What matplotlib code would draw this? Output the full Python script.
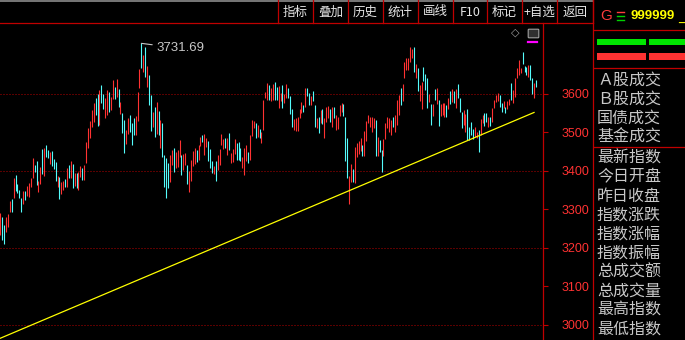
import matplotlib
matplotlib.use('Agg')
import matplotlib.pyplot as plt
from matplotlib.patches import Rectangle, FancyBboxPatch

# daily bars of index 999999 (high / low / up-day flag)
highs = [3291, 3280, 3259, 3280, 3288, 3322, 3327, 3382, 3389, 3366,
         3350, 3330, 3348, 3348, 3361, 3369, 3382, 3434, 3415, 3426,
         3374, 3410, 3457, 3460, 3467, 3454, 3449, 3452, 3431, 3423,
         3387, 3384, 3371, 3374, 3379, 3408, 3415, 3426, 3418, 3395,
         3395, 3397, 3413, 3408, 3415, 3475, 3512, 3530, 3558, 3577,
         3590, 3600, 3610, 3623, 3600, 3590, 3610, 3605, 3592, 3636,
         3618, 3639, 3613, 3579, 3551, 3532, 3506, 3538, 3545, 3525,
         3538, 3543, 3605, 3665, 3731.69, 3701, 3722, 3673, 3649, 3597,
         3553, 3566, 3579, 3556, 3532, 3525, 3441, 3434, 3421, 3441,
         3454, 3460, 3449, 3454, 3480, 3441, 3444, 3447, 3415, 3400,
         3428, 3452, 3460, 3454, 3467, 3488, 3493, 3496, 3486, 3478,
         3457, 3426, 3413, 3426, 3441, 3457, 3496, 3483, 3486, 3486,
         3499, 3447, 3457, 3483, 3473, 3475, 3460, 3436, 3460, 3467,
         3449, 3493, 3532, 3530, 3525, 3519, 3509, 3501, 3584, 3605,
         3629, 3623, 3616, 3626, 3631, 3618, 3621, 3603, 3623, 3600,
         3626, 3616, 3595, 3561, 3535, 3538, 3540, 3561, 3579, 3571,
         3616, 3616, 3603, 3595, 3608, 3571, 3538, 3540, 3558, 3561,
         3538, 3566, 3569, 3561, 3566, 3566, 3545, 3540, 3571, 3577,
         3574, 3540, 3486, 3387, 3418, 3405, 3462, 3473, 3478, 3486,
         3467, 3504, 3530, 3545, 3540, 3540, 3538, 3532, 3488, 3480,
         3454, 3483, 3525, 3540, 3538, 3532, 3540, 3545, 3584, 3597,
         3616, 3626, 3683, 3694, 3694, 3722, 3717, 3722, 3678, 3668,
         3623, 3631, 3670, 3652, 3642, 3600, 3574, 3574, 3613, 3616,
         3584, 3574, 3577, 3577, 3571, 3590, 3608, 3613, 3608, 3613,
         3626, 3590, 3553, 3558, 3548, 3561, 3514, 3527, 3509, 3514,
         3501, 3506, 3535, 3545, 3551, 3551, 3540, 3540, 3564, 3584,
         3597, 3603, 3597, 3577, 3582, 3566, 3582, 3587, 3629, 3610,
         3642, 3668, 3688, 3668, 3709, 3673, 3670, 3675, 3675, 3642,
         3629, 3636]
lows = [3233, 3220, 3210, 3241, 3254, 3293, 3293, 3330, 3348, 3343,
        3330, 3293, 3314, 3324, 3335, 3332, 3358, 3382, 3397, 3363,
        3345, 3366, 3392, 3387, 3436, 3434, 3418, 3413, 3405, 3374,
        3358, 3327, 3340, 3350, 3358, 3358, 3382, 3382, 3356, 3361,
        3356, 3350, 3384, 3376, 3376, 3421, 3460, 3486, 3514, 3527,
        3545, 3517, 3519, 3577, 3561, 3538, 3545, 3553, 3558, 3587,
        3587, 3592, 3566, 3548, 3499, 3447, 3470, 3496, 3501, 3467,
        3493, 3493, 3530, 3616, 3668, 3657, 3644, 3618, 3571, 3504,
        3514, 3488, 3496, 3493, 3460, 3436, 3358, 3330, 3356, 3371,
        3415, 3397, 3408, 3410, 3436, 3389, 3402, 3415, 3366, 3345,
        3374, 3413, 3418, 3423, 3428, 3465, 3475, 3441, 3462, 3426,
        3408, 3395, 3392, 3374, 3402, 3415, 3467, 3457, 3460, 3441,
        3454, 3421, 3423, 3444, 3428, 3428, 3426, 3408, 3389, 3426,
        3421, 3428, 3491, 3512, 3486, 3488, 3486, 3473, 3506, 3590,
        3584, 3584, 3582, 3584, 3584, 3584, 3564, 3582, 3564, 3577,
        3590, 3590, 3548, 3514, 3506, 3504, 3504, 3538, 3551, 3553,
        3566, 3595, 3571, 3571, 3582, 3514, 3512, 3499, 3525, 3522,
        3486, 3527, 3538, 3527, 3514, 3538, 3506, 3509, 3543, 3553,
        3543, 3426, 3382, 3314, 3371, 3371, 3369, 3436, 3444, 3452,
        3439, 3439, 3478, 3525, 3514, 3501, 3512, 3439, 3439, 3449,
        3397, 3439, 3483, 3512, 3501, 3493, 3514, 3501, 3519, 3545,
        3571, 3582, 3642, 3662, 3662, 3683, 3694, 3657, 3642, 3608,
        3582, 3561, 3634, 3610, 3564, 3579, 3519, 3543, 3584, 3574,
        3517, 3543, 3545, 3540, 3540, 3561, 3574, 3579, 3577, 3564,
        3590, 3553, 3512, 3519, 3501, 3480, 3480, 3493, 3483, 3488,
        3486, 3449, 3493, 3525, 3517, 3527, 3514, 3517, 3527, 3564,
        3579, 3582, 3566, 3553, 3564, 3551, 3561, 3571, 3584, 3577,
        3592, 3642, 3649, 3655, 3678, 3657, 3649, 3644, 3636, 3600,
        3590, 3618]
up = [1, 0, 0, 1, 1, 1, 0, 1, 0, 0,
      0, 0, 1, 0, 1, 1, 1, 1, 0, 0,
      1, 1, 0, 1, 0, 0, 1, 0, 0, 0,
      1, 0, 1, 1, 0, 1, 0, 1, 0, 1,
      0, 1, 1, 0, 1, 1, 1, 1, 1, 1,
      0, 0, 1, 0, 0, 1, 1, 0, 1, 1,
      0, 1, 0, 1, 0, 0, 1, 1, 0, 0,
      0, 1, 1, 1, 0, 1, 0, 1, 0, 0,
      1, 0, 1, 0, 1, 0, 0, 0, 0, 1,
      1, 0, 1, 1, 1, 0, 1, 1, 0, 1,
      1, 1, 1, 0, 1, 1, 0, 1, 1, 0,
      0, 0, 1, 0, 1, 1, 1, 1, 0, 1,
      0, 1, 1, 1, 0, 0, 0, 1, 1, 1,
      0, 1, 1, 1, 0, 1, 0, 1, 1, 1,
      1, 0, 1, 1, 0, 0, 1, 1, 0, 1,
      1, 0, 0, 0, 1, 1, 1, 1, 1, 0,
      1, 0, 0, 1, 0, 0, 1, 0, 1, 0,
      1, 1, 1, 0, 1, 0, 1, 1, 1, 1,
      0, 0, 0, 1, 1, 0, 1, 1, 1, 1,
      0, 1, 1, 1, 1, 1, 1, 0, 1, 0,
      0, 1, 1, 1, 1, 1, 0, 1, 1, 1,
      0, 1, 1, 1, 1, 1, 1, 0, 1, 0,
      1, 1, 0, 0, 0, 1, 0, 1, 0, 1,
      0, 1, 1, 1, 0, 1, 0, 1, 0, 1,
      0, 0, 0, 1, 1, 0, 0, 0, 0, 1,
      1, 0, 1, 1, 0, 0, 1, 0, 1, 1,
      1, 1, 0, 0, 1, 0, 1, 1, 0, 1,
      1, 1, 1, 1, 0, 0, 0, 1, 0, 0,
      1, 0]

# hand drawn support line (bar index -> price)
trend_idx = [0, 280]
trend_val = [2965, 3552]

yticks = [3000, 3100, 3200, 3300, 3400, 3500, 3600]
grid_levels = [3000, 3200, 3400, 3600]

buttons = ['指标', '叠加', '历史', '统计', '画线', 'F10', '标记', '+自选', '返回']
button_edges = [278, 313, 348, 383, 418, 453, 487, 522, 557, 593]
stats_top = ['Ａ股成交', 'Ｂ股成交', '国债成交', '基金成交']
stats_bottom = ['最新指数', '今日开盘', '昨日收盘', '指数涨跌', '指数涨幅',
                '指数振幅', '总成交额', '总成交量', '最高指数', '最低指数']

RED = '#ff3232'
CYAN = '#54fcfc'
FRAME = '#c00000'
CJK = ['Noto Sans CJK SC', 'DejaVu Sans']
W, H = 685, 340

fig = plt.figure(figsize=(W / 100, H / 100), dpi=100, facecolor='black')

# price panel
ax = fig.add_axes([0, 0, 543 / W, 317 / H])
ax.set_facecolor('black')
idx = list(range(len(highs)))
cols = [RED if u else CYAN for u in up]
ax.vlines(idx, lows, highs, colors=cols, linewidth=0.8)
ax.plot(trend_idx, trend_val, color='#ffff00', lw=0.9)
for lvl in grid_levels:
    ax.axhline(lvl, color='#b40000', lw=0.72, linestyle=(0, (1, 2)), zorder=0)

ax.set_xlim(-0.17, 284.7)
ax.set_ylim(2960.4, 3784.6)
for s in ['left', 'top', 'bottom']:
    ax.spines[s].set_visible(False)
ax.spines['right'].set_color(FRAME)
ax.spines['right'].set_linewidth(0.9)
ax.set_xticks([])
ax.yaxis.tick_right()
ax.set_yticks(yticks)
ax.tick_params(axis='y', direction='out', length=3.6, width=0.8, color=FRAME,
               labelcolor=RED, labelsize=9, pad=29.5)
for lab in ax.get_yticklabels():
    lab.set_ha('right')
    lab.set_fontfamily('Liberation Sans')

# peak marker
pk = highs.index(max(highs))
ax.annotate(f'{max(highs):.2f}', xy=(pk, max(highs)), xytext=(15, -5),
            textcoords='offset pixels', color='#c8c8c8', fontsize=9.5,
            family='Liberation Sans', va='center', ha='left',
            arrowprops=dict(arrowstyle='-', color='#c8c8c8', lw=0.8,
                            shrinkA=1, shrinkB=0))

# frame, toolbar and info panel in pixel coordinates
ov = fig.add_axes([0, 0, 1, 1])
ov.set_xlim(0, W)
ov.set_ylim(H, 0)
ov.axis('off')
ov.patch.set_alpha(0)

ov.plot([0, 593], [0.7, 0.7], color='#8c8c8c', lw=1.2)
ov.plot([0, 593], [22.5, 22.5], color=FRAME, lw=0.9)
for xe in button_edges:
    ov.plot([xe, xe], [0, 22.5], color=FRAME, lw=0.9)
for i, b in enumerate(buttons):
    xc = (button_edges[i] + button_edges[i + 1]) / 2
    ov.text(xc, 12, b, color='#e6e6e6', fontsize=9, family=CJK,
            ha='center', va='center')

ov.text(515, 33, '◇', color='#a0a0a0', fontsize=8, ha='center', va='center')
ov.add_patch(FancyBboxPatch((529, 30), 9, 7, boxstyle='round,pad=0.8',
                            fc='#303030', ec='#a0a0a0', lw=0.8))
ov.plot([528, 537], [41.5, 41.5], color='#ff00ff', lw=1.6)

ov.plot([593.5, 593.5], [0, H], color=FRAME, lw=0.9)
for yl in [30, 68, 147]:
    ov.plot([594, W], [yl, yl], color=FRAME, lw=0.9)

ov.text(600, 16, 'G', color='#ff3c3c', fontsize=11, family='Liberation Sans',
        ha='left', va='center')
for yy, c in zip([11.5, 15.5, 19.5], ['#ff3c3c', '#00d000', '#00d000']):
    ov.plot([617, 624], [yy, yy], color=c, lw=1)
ov.text(631, 16, '999999', color='#ffff00', fontsize=9.5, weight='bold',
        family='Liberation Sans', ha='left', va='center')
ov.text(678.5, 19, '_', color='#ffff00', fontsize=8, weight='bold',
        family='Liberation Sans', ha='left', va='center')

for xb, wb in [(597, 49), (649, 36)]:
    ov.add_patch(Rectangle((xb, 39), wb, 6, color='#00e600', lw=0))
    ov.add_patch(Rectangle((xb, 53), wb, 7, color='#ff3232', lw=0))

for i, t in enumerate(stats_top):
    ov.text(597, 80 + i * 18.9, t, color='#c8c8c8', fontsize=11.5,
            family=CJK, ha='left', va='center')
for i, t in enumerate(stats_bottom):
    ov.text(597, 158.3 + i * 18.95, t, color='#c8c8c8', fontsize=11.5,
            family=CJK, ha='left', va='center')

fig.savefig('out.png', dpi=100, facecolor='black')
